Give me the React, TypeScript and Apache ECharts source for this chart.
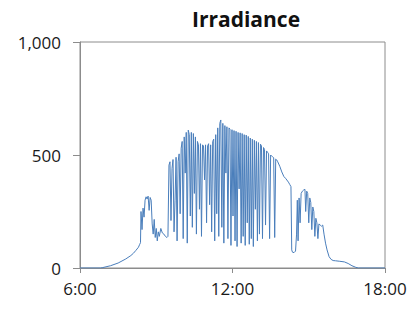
import React, { useEffect, useRef } from "react";
import * as echarts from "echarts";

const title = "Irradiance";
const xTicks = [6, 12, 18];
const yTicks = [0, 500, 1000];

// Early morning smooth rise
const morningHours = [6.0, 6.8, 6.9, 7.2, 7.5, 7.8, 8.0, 8.1, 8.2, 8.3, 8.35, 8.38];
const morningValues = [0, 0, 2, 10, 22, 40, 55, 65, 78, 92, 105, 112];

// First cloudy bump
const bumpHours = [8.40, 8.44, 8.48, 8.52, 8.56, 8.60, 8.64, 8.68, 8.72, 8.76, 8.80, 8.84, 8.88, 8.92, 8.96, 9.00, 9.04, 9.08, 9.12, 9.18, 9.24, 9.30, 9.36, 9.42, 9.46];
const bumpValues = [250, 170, 265, 225, 300, 315, 305, 318, 255, 312, 300, 195, 150, 215, 135, 175, 120, 160, 140, 175, 155, 150, 140, 135, 140];

// Midday broken clouds
const middayHours = [
  9.50, 9.54, 9.58, 9.62, 9.66, 9.70, 9.74, 9.78, 9.82, 9.86,
  9.90, 9.94, 9.98, 10.02, 10.06, 10.10, 10.14, 10.18, 10.22, 10.26,
  10.30, 10.34, 10.38, 10.42, 10.46, 10.50, 10.54, 10.58, 10.62, 10.66,
  10.70, 10.74, 10.78, 10.82, 10.86, 10.90, 10.94, 10.98, 11.02, 11.06,
  11.10, 11.14, 11.18, 11.22, 11.26, 11.30, 11.34, 11.38, 11.42, 11.46,
  11.50, 11.54, 11.58, 11.62, 11.66, 11.70, 11.74, 11.78, 11.82, 11.86,
  11.90, 11.94, 11.98, 12.02, 12.06, 12.10, 12.14, 12.18, 12.22, 12.26,
  12.30, 12.34, 12.38, 12.42, 12.46, 12.50, 12.54, 12.58, 12.62, 12.66,
  12.70, 12.74, 12.78, 12.82, 12.86, 12.90, 12.94, 12.98, 13.02, 13.06,
  13.10, 13.14, 13.18, 13.22, 13.26, 13.30, 13.34, 13.38, 13.42, 13.46,
  13.50, 13.54, 13.58, 13.62, 13.66, 13.70, 13.74, 13.78, 13.86, 13.94,
  14.02, 14.10, 14.20, 14.25, 14.30, 14.33,
];
const middayValues = [
  455, 470, 210, 440, 480, 160, 300, 490, 120, 470,
  505, 240, 530, 560, 130, 580, 420, 600, 110, 610,
  590, 230, 600, 180, 595, 330, 580, 150, 560, 545,
  260, 550, 140, 545, 540, 390, 545, 200, 540, 550,
  280, 545, 160, 560, 570, 120, 590, 240, 620, 140,
  640, 655, 180, 640, 110, 630, 420, 625, 130, 620,
  615, 100, 612, 230, 608, 120, 605, 95, 600, 350,
  598, 110, 595, 140, 590, 100, 588, 200, 582, 105,
  575, 130, 570, 95, 565, 260, 560, 120, 555, 150,
  548, 540, 130, 533, 525, 190, 518, 512, 505, 130,
  500, 495, 492, 488, 135, 482, 478, 470, 450, 425,
  405, 395, 380, 370, 360, 80,
];

// Afternoon bump and sunset
const eveningHours = [
  14.36, 14.42, 14.48, 14.52, 14.55, 14.58, 14.62, 14.66, 14.70, 14.75,
  14.80, 14.85, 14.88, 14.92, 14.96, 15.00, 15.04, 15.08, 15.12, 15.16,
  15.20, 15.24, 15.28, 15.32, 15.36, 15.40, 15.45, 15.50, 15.55, 15.60,
  15.66, 15.72, 15.80, 15.88, 15.96, 16.05, 16.20, 16.40, 16.55, 16.70,
  16.85, 16.95, 18.0,
];
const eveningValues = [
  70, 68, 75, 150, 300, 120, 310, 200, 330, 340,
  345, 348, 250, 340, 330, 200, 310, 290, 170, 270,
  250, 140, 220, 200, 130, 195, 190, 185, 190, 150,
  110, 80, 50, 38, 33, 32, 30, 27, 20, 10,
  3, 0, 0,
];

const hours = [...morningHours, ...bumpHours, ...middayHours, ...eveningHours];
const watts = [...morningValues, ...bumpValues, ...middayValues, ...eveningValues];

const FONT = "'Open Sans', sans-serif";

export default function App() {
  const ref = useRef<HTMLDivElement>(null);
  useEffect(() => {
    if (!ref.current) return;
    const chart = echarts.init(ref.current, undefined, { renderer: "svg" });
    chart.setOption({
      animation: false,
      backgroundColor: "#ffffff",
      title: {
        text: title,
        left: 241,
        top: 3,
        textAlign: "center",
        textStyle: { fontFamily: FONT, fontWeight: "bold", fontSize: 21, color: "#111" },
      },
      grid: {
        left: 80,
        right: 26,
        top: 42,
        bottom: 41,
        show: true,
        borderColor: "#8c8c8c",
        borderWidth: 1,
      },
      xAxis: {
        type: "value",
        min: xTicks[0],
        max: xTicks[xTicks.length - 1],
        interval: 6,
        axisLine: { show: true, lineStyle: { color: "#8c8c8c", width: 1 } },
        axisTick: { show: true, length: 5, lineStyle: { color: "#8c8c8c" } },
        splitLine: { show: false },
        axisLabel: {
          margin: 12,
          fontFamily: FONT,
          fontSize: 17,
          color: "#1a1a1a",
          formatter: (v: number) => `${v}:00`,
        },
      },
      yAxis: {
        type: "value",
        min: yTicks[0],
        max: yTicks[yTicks.length - 1],
        interval: 500,
        axisLine: { show: true, lineStyle: { color: "#8c8c8c", width: 1 } },
        axisTick: { show: true, length: 7, lineStyle: { color: "#8c8c8c" } },
        splitLine: { show: false },
        axisLabel: {
          margin: 19,
          fontFamily: FONT,
          fontSize: 17,
          color: "#1a1a1a",
          formatter: (v: number) => v.toLocaleString("en-US"),
        },
      },
      series: [
        {
          type: "line",
          data: hours.map((h, i) => [h, watts[i]]),
          showSymbol: false,
          symbol: "none",
          lineStyle: { color: "#4a7ebb", width: 1 },
        },
      ],
    });
    return () => chart.dispose();
  }, []);
  return (
    <div
      ref={ref}
      style={{ position: "fixed", left: 0, top: 0, width: 411, height: 309 }}
    />
  );
}
